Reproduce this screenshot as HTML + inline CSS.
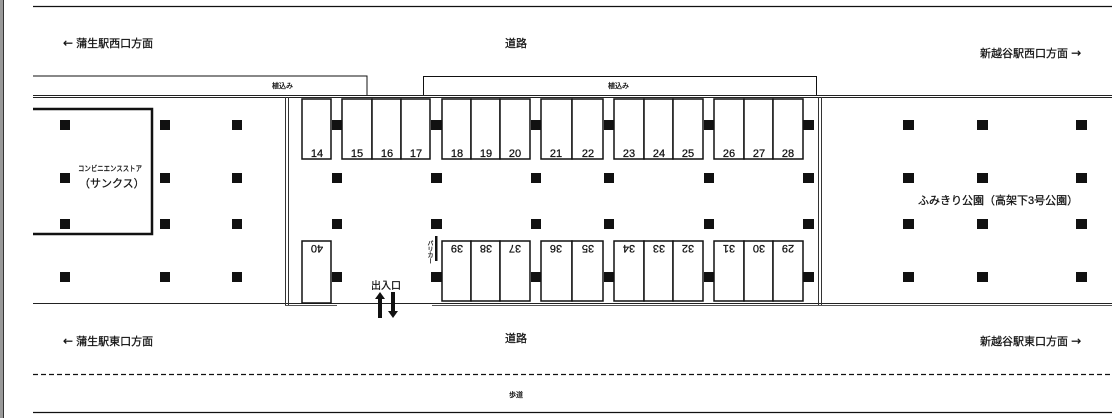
<!DOCTYPE html>
<html><head><meta charset="utf-8"><style>
html,body{margin:0;padding:0;background:#fff;}
svg{display:block;}
text{font-family:"Liberation Sans","Noto Sans CJK JP",sans-serif;fill:#111;stroke:#111;stroke-width:0.25;}
.ar{font-family:"DejaVu Sans",sans-serif;font-size:12px;}
</style></head><body>
<svg width="1118" height="418" viewBox="0 0 1118 418" xmlns="http://www.w3.org/2000/svg">
<rect x="0" y="0" width="3" height="418" fill="#999"/>
<line x1="3.5" y1="0" x2="3.5" y2="418" stroke="#333" stroke-width="1"/>
<line x1="33" y1="6.5" x2="1112" y2="6.5" stroke="#111" stroke-width="1.2"/>
<text x="63" y="47" font-size="11"><tspan class="ar">←</tspan>  蒲生駅西口方面</text>
<text x="505" y="47" font-size="11">道路</text>
<text x="980" y="57" font-size="11">新越谷駅西口方面  <tspan class="ar">→</tspan></text>
<polyline points="33,76 367,76 367,95" fill="none" stroke="#111" stroke-width="1"/>
<text x="272" y="88" font-size="7">植込み</text>
<rect x="423.5" y="76.5" width="393" height="19" fill="none" stroke="#111" stroke-width="1"/>
<text x="608" y="88" font-size="7">植込み</text>
<line x1="33" y1="95.5" x2="1112" y2="95.5" stroke="#222" stroke-width="1"/>
<line x1="33" y1="97.5" x2="1112" y2="97.5" stroke="#222" stroke-width="1"/>
<line x1="33" y1="303.5" x2="1112" y2="303.5" stroke="#222" stroke-width="1"/>
<line x1="285" y1="305.5" x2="337" y2="305.5" stroke="#555" stroke-width="1"/>
<line x1="432" y1="305.5" x2="1112" y2="305.5" stroke="#555" stroke-width="1"/>
<line x1="285.5" y1="97" x2="285.5" y2="305" stroke="#333" stroke-width="1"/>
<line x1="288.5" y1="97" x2="288.5" y2="305" stroke="#333" stroke-width="1"/>
<line x1="818.5" y1="97" x2="818.5" y2="305" stroke="#333" stroke-width="1"/>
<line x1="821.5" y1="97" x2="821.5" y2="305" stroke="#333" stroke-width="1"/>
<polyline points="33,109 152,109 152,234 33,234" fill="none" stroke="#111" stroke-width="2.5"/>
<text x="78" y="171" font-size="7.5" textLength="64" lengthAdjust="spacingAndGlyphs">コンビニエンスストア</text>
<text x="79" y="187" font-size="11">（サンクス）</text>
<g fill="#fff" stroke="#111" stroke-width="1.5">
<rect x="302" y="99" width="29" height="60"/>
<rect x="342" y="99" width="30" height="60"/><rect x="372" y="99" width="29" height="60"/><rect x="401" y="99" width="29" height="60"/>
<rect x="442" y="99" width="29" height="60"/><rect x="471" y="99" width="29" height="60"/><rect x="500" y="99" width="30" height="60"/>
<rect x="541" y="99" width="31" height="60"/><rect x="572" y="99" width="31" height="60"/>
<rect x="614" y="99" width="30" height="60"/><rect x="644" y="99" width="29" height="60"/><rect x="673" y="99" width="30" height="60"/>
<rect x="714" y="99" width="30" height="60"/><rect x="744" y="99" width="29" height="60"/><rect x="773" y="99" width="30" height="60"/>
</g>
<g font-size="11" text-anchor="middle">
<text x="317" y="157">14</text><text x="357" y="157">15</text><text x="387" y="157">16</text><text x="416" y="157">17</text>
<text x="457" y="157">18</text><text x="486" y="157">19</text><text x="515" y="157">20</text>
<text x="556" y="157">21</text><text x="588" y="157">22</text>
<text x="629" y="157">23</text><text x="659" y="157">24</text><text x="688" y="157">25</text>
<text x="729" y="157">26</text><text x="759" y="157">27</text><text x="788" y="157">28</text>
</g>
<g fill="#fff" stroke="#111" stroke-width="1.5">
<rect x="302" y="241" width="29" height="62"/>
<rect x="442" y="241" width="29" height="60"/><rect x="471" y="241" width="29" height="60"/><rect x="500" y="241" width="30" height="60"/>
<rect x="541" y="241" width="31" height="60"/><rect x="572" y="241" width="31" height="60"/>
<rect x="614" y="241" width="30" height="60"/><rect x="644" y="241" width="29" height="60"/><rect x="673" y="241" width="30" height="60"/>
<rect x="714" y="241" width="30" height="60"/><rect x="744" y="241" width="29" height="60"/><rect x="773" y="241" width="30" height="60"/>
</g>
<g font-size="11" text-anchor="middle">
<text transform="translate(317,245) rotate(180)">40</text>
<text transform="translate(457,245) rotate(180)">39</text><text transform="translate(486,245) rotate(180)">38</text><text transform="translate(515,245) rotate(180)">37</text>
<text transform="translate(556,245) rotate(180)">36</text><text transform="translate(588,245) rotate(180)">35</text>
<text transform="translate(629,245) rotate(180)">34</text><text transform="translate(659,245) rotate(180)">33</text><text transform="translate(688,245) rotate(180)">32</text>
<text transform="translate(729,245) rotate(180)">31</text><text transform="translate(759,245) rotate(180)">30</text><text transform="translate(788,245) rotate(180)">29</text>
</g>
<g fill="#111">
<rect x="60" y="120" width="10" height="10"/><rect x="160" y="120" width="10" height="10"/><rect x="232" y="120" width="10" height="10"/>
<rect x="60" y="173" width="10" height="10"/><rect x="160" y="173" width="10" height="10"/><rect x="232" y="173" width="10" height="10"/>
<rect x="60" y="219" width="10" height="10"/><rect x="160" y="219" width="10" height="10"/><rect x="232" y="219" width="10" height="10"/>
<rect x="60" y="272" width="10" height="10"/><rect x="160" y="272" width="10" height="10"/><rect x="232" y="272" width="10" height="10"/>
<rect x="332" y="120" width="10" height="10"/><rect x="431" y="120" width="11" height="10"/><rect x="531" y="120" width="10" height="10"/><rect x="604" y="120" width="10" height="10"/><rect x="704" y="120" width="10" height="10"/><rect x="803" y="120" width="11" height="10"/>
<rect x="332" y="173" width="10" height="10"/><rect x="431" y="173" width="11" height="10"/><rect x="531" y="173" width="10" height="10"/><rect x="604" y="173" width="10" height="10"/><rect x="704" y="173" width="10" height="10"/><rect x="803" y="173" width="11" height="10"/>
<rect x="332" y="219" width="10" height="10"/><rect x="431" y="219" width="11" height="10"/><rect x="531" y="219" width="10" height="10"/><rect x="604" y="219" width="10" height="10"/><rect x="704" y="219" width="10" height="10"/><rect x="803" y="219" width="11" height="10"/>
<rect x="332" y="272" width="10" height="10"/><rect x="431" y="272" width="11" height="10"/><rect x="531" y="272" width="10" height="10"/><rect x="604" y="272" width="10" height="10"/><rect x="704" y="272" width="10" height="10"/><rect x="803" y="272" width="11" height="10"/>
<rect x="903" y="120" width="11" height="10"/><rect x="977" y="120" width="11" height="10"/><rect x="1076" y="120" width="11" height="10"/>
<rect x="903" y="173" width="11" height="10"/><rect x="977" y="173" width="11" height="10"/><rect x="1076" y="173" width="11" height="10"/>
<rect x="903" y="219" width="11" height="10"/><rect x="977" y="219" width="11" height="10"/><rect x="1076" y="219" width="11" height="10"/>
<rect x="903" y="272" width="11" height="10"/><rect x="977" y="272" width="11" height="10"/><rect x="1076" y="272" width="11" height="10"/>
<rect x="435" y="236" width="2.5" height="25"/>
<polygon points="380,292 385,299 382,299 382,318 378,318 378,299 375,299"/>
<polygon points="393,318 398,311 395,311 395,292 391,292 391,311 388,311"/>
</g>
<text x="429" y="240" font-size="6" writing-mode="tb">バリカー</text>
<text x="371" y="289" font-size="10">出入口</text>
<text x="918" y="204" font-size="11">ふみきり公園（高架下3号公園）</text>
<text x="63" y="345" font-size="11"><tspan class="ar">←</tspan>  蒲生駅東口方面</text>
<text x="505" y="342" font-size="11">道路</text>
<text x="980" y="345" font-size="11">新越谷駅東口方面  <tspan class="ar">→</tspan></text>
<line x1="33" y1="374.5" x2="1112" y2="374.5" stroke="#111" stroke-width="1.2" stroke-dasharray="5,3"/>
<text x="509" y="397" font-size="7">歩道</text>
<line x1="33" y1="412.5" x2="1112" y2="412.5" stroke="#111" stroke-width="1.2"/>
</svg>
</body></html>
